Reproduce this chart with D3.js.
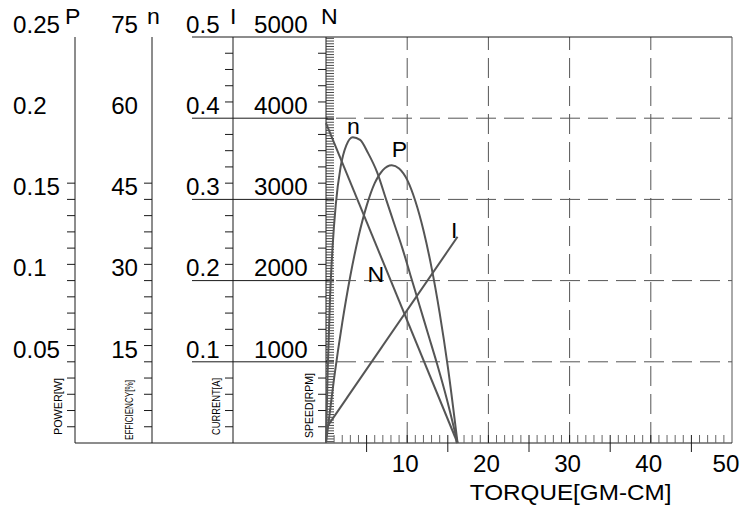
<!DOCTYPE html>
<html>
<head>
<meta charset="utf-8">
<script src="https://cdn.jsdelivr.net/npm/d3@7"></script>
<style>
  body { margin: 0; background: #fff; }
  svg { display: block; font-family: "Liberation Sans", Arial, sans-serif; }
</style>
</head>
<body>
<div id="chart"></div>
<script>
// axis tick labels
const torqueTicks = [10, 20, 30, 40, 50];
const powerTicks = [0.05, 0.1, 0.15, 0.2, 0.25];
const effTicks = [15, 30, 45, 60, 75];
const currentTicks = [0.1, 0.2, 0.3, 0.4, 0.5];
const speedTicks = [1000, 2000, 3000, 4000, 5000];

// curves, torque in gm-cm
const speedTorque = [0, 16.2];
const speedValues = [3940, 0];

const currentTorque = [0, 16.2];
const currentValues = [0.018, 0.254];

const effTorque = [0, 0.2, 0.5, 0.8, 1.2, 1.8, 2.5, 3.3, 4.2, 5.2, 6.3, 7.4, 8.4, 9.4, 10.4, 11.5, 12.6, 13.7, 14.9, 16.2];
const effValues = [0, 13, 27, 36, 44, 51, 55, 56.5, 56, 53.5, 50, 45, 40.5, 36, 31, 25.5, 20, 14.5, 8, 0];

const powerTorque = [0, 1, 2, 3, 4, 5, 6, 7, 8.1, 9, 10, 11, 12, 13, 14, 15, 16.2];
const powerValues = [0, 0.040, 0.074, 0.103, 0.127, 0.146, 0.160, 0.168, 0.171, 0.169, 0.162, 0.149, 0.131, 0.108, 0.080, 0.047, 0];

const width = 741, height = 510;
const pLeft = 326, pRight = 732, pTop = 37, pBottom = 443;
const stretch = 1.05; // the lettering in the original is a little wide

const svg = d3.select("#chart").append("svg")
    .attr("width", width)
    .attr("height", height);

const x = d3.scaleLinear().domain([0, 50]).range([pLeft, pRight]);
// 25 small divisions down each left axis
const row = d3.scaleLinear().domain([0, 25]).range([pTop, pBottom]);
const step = row(1) - row(0);

const yPower = d3.scaleLinear().domain([0, 0.25]).range([pBottom, pTop]);
const yEff = d3.scaleLinear().domain([0, 75]).range([pBottom, pTop]);
const yCurrent = d3.scaleLinear().domain([0, 0.5]).range([pBottom, pTop]);
const ySpeed = d3.scaleLinear().domain([0, 5000]).range([pBottom, pTop]);

const ink = "#1a1a1a";
const grey = "#555";

function at(px, py) {
    return `translate(${px},${py}) scale(${stretch},1)`;
}

// --- dashed grid inside the plot ---
svg.append("g")
    .selectAll("line")
    .data([5, 10, 15, 20])
    .join("line")
    .attr("x1", pLeft).attr("x2", pRight)
    .attr("y1", d => row(d)).attr("y2", d => row(d))
    .attr("stroke", grey)
    .attr("stroke-dasharray", "20,8")
    .attr("stroke-dashoffset", -10);

svg.append("g")
    .selectAll("line")
    .data(torqueTicks.filter(d => d < 50))
    .join("line")
    .attr("x1", d => x(d)).attr("x2", d => x(d))
    .attr("y1", pTop).attr("y2", pBottom)
    .attr("stroke", grey)
    .attr("stroke-dasharray", "20,8")
    .attr("stroke-dashoffset", 7);

// solid rows running from the current axis into the plot
svg.append("g")
    .selectAll("line")
    .data([5, 10, 15, 20])
    .join("line")
    .attr("x1", 192).attr("x2", pLeft + 8)
    .attr("y1", d => row(d)).attr("y2", d => row(d))
    .attr("stroke", ink);

// frame
svg.append("line").attr("x1", 192).attr("x2", pRight).attr("y1", pTop).attr("y2", pTop).attr("stroke", ink);
svg.append("line").attr("x1", pRight).attr("x2", pRight).attr("y1", pTop).attr("y2", pBottom).attr("stroke", grey);
svg.append("line").attr("x1", 75).attr("x2", pRight).attr("y1", pBottom).attr("y2", pBottom).attr("stroke", ink);

// --- left axes ---
const leftAxes = [
    { title: "P", unit: "POWER[W]", ax: 75, ticks: powerTicks, scale: yPower, labelX: 13, anchor: "start",
      rows: d3.range(9, 25), titleX: 65, unitX: 62, unitLen: 57, unitY: 435 },
    { title: "n", unit: "EFFICIENCY[%]", ax: 152, ticks: effTicks, scale: yEff, labelX: 138, anchor: "end",
      rows: d3.range(9, 25), titleX: 147, unitX: 133, unitLen: 60, unitY: 440 },
    { title: "I", unit: "CURRENT[A]", ax: 233, ticks: currentTicks, scale: yCurrent, labelX: 186, anchor: "start",
      rows: d3.range(1, 25).filter(k => k % 5), titleX: 230, unitX: 220, unitLen: 57, unitY: 435 },
    { title: "N", unit: "SPEED[RPM]", ax: pLeft, ticks: speedTicks, scale: ySpeed, labelX: 254, anchor: "start",
      rows: d3.range(1, 25).filter(k => k % 5), titleX: 321, unitX: 313, unitLen: 65, unitY: 438 }
];

leftAxes.forEach(a => {
    const g = svg.append("g");
    g.append("line")
        .attr("x1", a.ax).attr("x2", a.ax)
        .attr("y1", pTop).attr("y2", pBottom)
        .attr("stroke", ink);

    g.selectAll(".tick")
        .data(a.rows)
        .join("line")
        .attr("class", "tick")
        .attr("x1", a.ax - 8).attr("x2", a.ax)
        .attr("y1", d => row(d)).attr("y2", d => row(d))
        .attr("stroke", ink);

    // labels sit one small division above the matching grid row
    const lab = a.scale.copy().range([pBottom - step, pTop - step]);
    g.selectAll(".lab")
        .data(a.ticks)
        .join("text")
        .attr("class", "lab")
        .attr("transform", d => at(a.labelX, lab(d) + 12))
        .attr("text-anchor", a.anchor)
        .attr("font-size", 23)
        .attr("fill", "#000")
        .text(d => String(d));

    g.append("text")
        .attr("transform", at(a.titleX, 24))
        .attr("font-size", 22)
        .attr("fill", "#000")
        .text(a.title);

    g.append("text")
        .attr("transform", `translate(${a.unitX},${a.unitY}) rotate(-90)`)
        .attr("font-size", 11.5)
        .attr("textLength", a.unitLen)
        .attr("lengthAdjust", "spacingAndGlyphs")
        .attr("fill", "#000")
        .text(a.unit);
});

// fine hatch on the speed axis
svg.append("g")
    .selectAll("line")
    .data(d3.range(0, 150))
    .join("line")
    .attr("x1", pLeft).attr("x2", pLeft + 8)
    .attr("y1", d => pTop + (d + 0.5) * step / 6)
    .attr("y2", d => pTop + (d + 0.5) * step / 6)
    .attr("stroke", "#333")
    .attr("stroke-width", 0.9);

// --- torque axis ---
const xg = svg.append("g");
xg.selectAll(".minor")
    .data(d3.range(1, 50))
    .join("line")
    .attr("class", "minor")
    .attr("x1", d => x(d)).attr("x2", d => x(d))
    .attr("y1", pBottom - 8)
    .attr("y2", d => (d % 10 === 5 ? pBottom + 9 : pBottom))
    .attr("stroke", d => (d % 5 === 0 ? ink : "#666"));

xg.selectAll(".lab")
    .data(torqueTicks)
    .join("text")
    .attr("class", "lab")
    .attr("transform", d => at(Math.min(x(d) - 2, width - 15), 472))
    .attr("text-anchor", "middle")
    .attr("font-size", 23)
    .attr("fill", "#000")
    .text(d => d);

xg.append("text")
    .attr("transform", at(x(30) + 1, 500))
    .attr("text-anchor", "middle")
    .attr("font-size", 22)
    .attr("textLength", 192)
    .attr("lengthAdjust", "spacingAndGlyphs")
    .attr("fill", "#000")
    .text("TORQUE[GM-CM]");

// --- curves ---
const curves = [
    { t: speedTorque, v: speedValues, y: ySpeed, smooth: false },
    { t: currentTorque, v: currentValues, y: yCurrent, smooth: false },
    { t: effTorque, v: effValues, y: yEff, smooth: true },
    { t: powerTorque, v: powerValues, y: yPower, smooth: true }
];

curves.forEach(c => {
    const pts = c.t.map((t, i) => [t, c.v[i]]);
    const line = d3.line()
        .x(d => x(d[0]))
        .y(d => c.y(d[1]))
        .curve(c.smooth ? d3.curveMonotoneX : d3.curveLinear);
    svg.append("path")
        .attr("d", line(pts))
        .attr("fill", "none")
        .attr("stroke", grey)
        .attr("stroke-width", 2);
});

// curve names, placed in each curve's own units
const curveLabels = [
    { text: "n", t: 2.6, y: yEff(57) },
    { text: "P", t: 8.1, y: yPower(0.176) },
    { text: "N", t: 5.1, y: ySpeed(1985) },
    { text: "I", t: 15.4, y: yCurrent(0.252) }
];

svg.append("g")
    .selectAll("text")
    .data(curveLabels)
    .join("text")
    .attr("transform", d => at(x(d.t), d.y))
    .attr("font-size", 22)
    .attr("fill", "#000")
    .text(d => d.text);
</script>
</body>
</html>
